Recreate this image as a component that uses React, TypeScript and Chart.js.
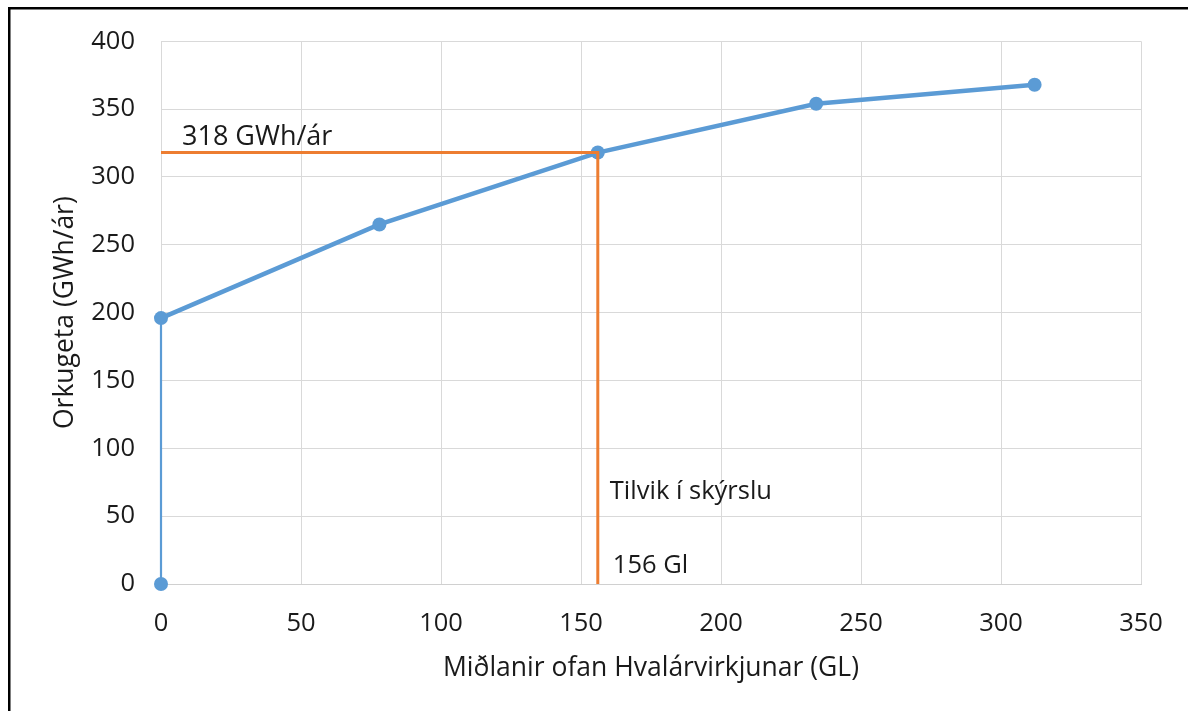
import React, { useEffect, useRef } from "react";
import { Chart, registerables } from "chart.js";

Chart.register(...registerables);

const xValues = [0, 0, 78, 156, 234, 312];
const yValues = [0, 196, 265, 318, 354, 368];
const refX = [0, 156, 156];
const refY = [318, 318, 0];
const xTitle = "Miðlanir ofan Hvalárvirkjunar (GL)";
const yTitle = "Orkugeta (GWh/ár)";
const energyLabel = "318 GWh/ár";
const caseLabel = "Tilvik í skýrslu";
const volumeLabel = "156 Gl";

const FONT = "'Open Sans', sans-serif";
const TEXT = "#1a1a1a";

const annotations = {
  id: "annotations",
  afterDatasetsDraw(chart: any) {
    const { ctx, scales } = chart;
    const xs = scales.x;
    const ys = scales.y;
    ctx.save();
    ctx.fillStyle = TEXT;
    ctx.textAlign = "left";
    ctx.textBaseline = "alphabetic";
    ctx.font = `27px ${FONT}`;
    ctx.fillText(energyLabel, xs.getPixelForValue(refX[0]) + 21, ys.getPixelForValue(refY[0]) - 8);
    ctx.font = `25.5px ${FONT}`;
    ctx.fillText(caseLabel, xs.getPixelForValue(refX[1]) + 12, ys.getPixelForValue(refY[2]) - 85);
    ctx.fillText(volumeLabel, xs.getPixelForValue(refX[1]) + 15, ys.getPixelForValue(refY[2]) - 11);
    ctx.restore();
  },
  afterDraw(chart: any) {
    const { ctx } = chart;
    ctx.save();
    ctx.fillStyle = "#000";
    ctx.fillRect(8, 7, 1180, 2.5);
    ctx.fillRect(8, 7, 2.5, 704);
    ctx.restore();
  },
};

export default function App() {
  const ref = useRef<HTMLCanvasElement>(null);
  useEffect(() => {
    if (!ref.current) return;
    const chart = new Chart(ref.current, {
      type: "line",
      data: {
        datasets: [
          {
            label: "ref",
            data: refX.map((x, i) => ({ x, y: refY[i] })),
            borderColor: "#ED7D31",
            borderWidth: 3,
            borderJoinStyle: "miter",
            pointRadius: 0,
            fill: false,
            clip: false,
            order: 0,
          },
          {
            label: "main",
            data: xValues.map((x, i) => ({ x, y: yValues[i] })),
            borderColor: "#5B9BD5",
            backgroundColor: "#5B9BD5",
            borderWidth: 4.5,
            pointRadius: 7,
            pointBorderWidth: 0,
            pointBackgroundColor: "#5B9BD5",
            fill: false,
            clip: false,
            order: 1,
            segment: {
              borderWidth: (c: any) => (c.p0DataIndex === 0 ? 2.2 : 4.5),
            },
          },
        ] as any,
      },
      options: {
        responsive: false,
        animation: false,
        devicePixelRatio: 1,
        layout: { padding: { left: 0, top: 40, right: 47, bottom: 0 } },
        plugins: { legend: { display: false }, tooltip: { enabled: false } },
        scales: {
          x: {
            type: "linear",
            min: 0,
            max: 350,
            ticks: { stepSize: 50, color: TEXT, font: { family: FONT, size: 25.5 }, padding: 24 },
            grid: { color: "#d9d9d9", lineWidth: 1, drawTicks: false },
            border: { color: "#d0d0d0" },
            title: {
              display: true,
              text: xTitle,
              color: TEXT,
              font: { family: FONT, size: 26.5 },
              padding: { top: 0, bottom: 27 },
            },
            afterFit(s: any) {
              s.height = 127;
            },
          },
          y: {
            min: 0,
            max: 400,
            ticks: { stepSize: 50, color: TEXT, font: { family: FONT, size: 25.5 }, padding: 26 },
            grid: { color: "#d9d9d9", lineWidth: 1, drawTicks: false },
            border: { display: false },
            title: {
              display: true,
              text: yTitle,
              color: TEXT,
              font: { family: FONT, size: 26.5 },
              padding: { top: 50, bottom: 0 },
            },
            afterFit(s: any) {
              s.width = 161;
            },
          },
        },
      },
      plugins: [annotations],
    });
    return () => chart.destroy();
  }, []);
  return (
    <div style={{ position: "absolute", left: 0, top: 0, width: 1188, height: 711, background: "#fff" }}>
      <canvas ref={ref} width={1188} height={711} />
    </div>
  );
}
